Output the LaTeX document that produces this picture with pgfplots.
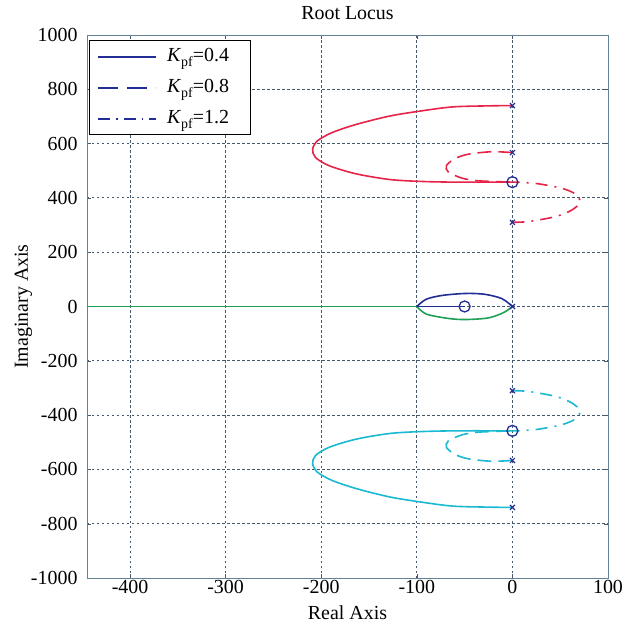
\documentclass[border=0pt]{standalone}
\usepackage{pgfplots}
\pgfplotsset{compat=1.18}
\usepackage{fontspec}
\setmainfont{Liberation Serif}
\definecolor{rred}{RGB}{230,35,72}
\definecolor{rcyan}{RGB}{25,185,210}
\definecolor{rblue}{RGB}{35,45,150}
\definecolor{rgreen}{RGB}{30,160,85}
\definecolor{gridc}{RGB}{70,90,110}
\definecolor{framec}{RGB}{100,130,150}
\newcommand{\kpf}{\textit{K}\raisebox{-0.5ex}{\fontsize{14}{14}\selectfont pf}}
\begin{document}
\begin{tikzpicture}
\path[use as bounding box] (-87bp,-46bp) rectangle (535bp,578bp);
\begin{axis}[
  scale only axis, width=521bp, height=543bp,
  xmin=-445, xmax=100, ymin=-1000, ymax=1000,
  xtick={-400,-300,...,100}, ytick={-1000,-800,...,1000},
  /pgf/number format/assume math mode=true,
  /pgf/number format/set thousands separator={},
  font=\fontsize{20}{24}\selectfont,
  tick label style={font=\fontsize{20}{24}\selectfont},
  xticklabel style={yshift=1bp},
  yticklabel style={xshift=-6bp},
  tick align=inside, tick pos=both,
  major tick length=4bp,
  axis line style={framec, line width=0.8pt},
  every tick/.style={gridc},
  grid=major,
  major grid style={gridc, line width=0.8pt, dash pattern=on 2.5bp off 2.5bp},
  title={Root Locus}, title style={at={(axis description cs:0.5,1.0184)}, anchor=base},
  xlabel={Real Axis}, ylabel={Imaginary Axis},
  xlabel style={at={(axis description cs:0.5,-0.0773)}, anchor=base},
  ylabel style={at={(axis description cs:-0.122,0.5)}, anchor=center},
  legend cell align=left,
  legend style={at={(0.004,0.99)}, anchor=north west, draw=black, line width=1pt,
    font=\fontsize{20}{24}\selectfont, row sep=9bp, inner xsep=8bp, inner ysep=5bp,
    nodes={inner sep=2bp, text height=14bp, text depth=4bp},
    /tikz/every odd column/.append style={column sep=8bp}},
  legend image code/.code={\draw[#1, line width=1.5pt] (0bp,0bp) -- (58bp,0bp);},
]
\addlegendimage{rblue, line width=1.5pt}
\addlegendentry{\kpf=0.4\rule{12bp}{0pt}}
\addlegendimage{rblue, dash pattern=on 20bp off 9bp}
\addlegendentry{\kpf=0.8\rule{12bp}{0pt}}
\addlegendimage{rblue, dash pattern=on 12bp off 6bp on 1.5bp off 6bp}
\addlegendentry{\kpf=1.2\rule{12bp}{0pt}}

% real axis branches
\addplot[rgreen, line width=1.6pt, forget plot] coordinates {(-445,0) (-100,0)};
\addplot[rgreen, line width=1.6pt, smooth, forget plot] coordinates {
(-100,0) (-90,-28) (-67,-44) (-49,-48) (-25,-42) (-9,-22) (0,0)};
\addplot[rblue, line width=1.6pt, smooth, forget plot] coordinates {
(-100,0) (-90,27) (-73,41) (-49,48) (-29,45) (-11,29) (0,0)};
\addplot[rblue, line width=1.6pt, forget plot] coordinates {(-100,0) (-50,0)};

% upper (red)
\addplot[rred, line width=1.6pt, smooth, tension=0.5, forget plot] coordinates {
(0,740) (-25,739) (-63,735) (-98,719) (-129,701) (-164,670) (-189,640) (-204,610) (-209,579) (-206,549) (-192,519) (-164,489) (-129,468) (-98,461) (-60,458) (0,458)};
\addplot[rred, line width=1.6pt, smooth, tension=0.5, dash pattern=on 14bp off 7bp, forget plot] coordinates {
(0,567) (-22,570) (-46,561) (-60,545) (-69,519) (-67,495) (-53,473) (-39,464) (-25,461) (0,458)};
\addplot[rred, line width=1.6pt, smooth, tension=0.5, dash pattern=on 12bp off 7bp on 2bp off 7bp, forget plot] coordinates {
(0,310) (17,313) (45,331) (62,355) (71,385) (65,416) (51,436) (27,452) (10,457) (0,458)};

% lower (cyan)
\addplot[rcyan, line width=1.6pt, smooth, tension=0.5, forget plot] coordinates {
(0,-740) (-25,-739) (-63,-735) (-98,-719) (-129,-701) (-164,-670) (-189,-640) (-204,-610) (-209,-579) (-206,-549) (-192,-519) (-164,-489) (-129,-468) (-98,-461) (-60,-458) (0,-458)};
\addplot[rcyan, line width=1.6pt, smooth, tension=0.5, dash pattern=on 14bp off 7bp, forget plot] coordinates {
(0,-567) (-22,-570) (-46,-561) (-60,-545) (-69,-519) (-67,-495) (-53,-473) (-39,-464) (-25,-461) (0,-458)};
\addplot[rcyan, line width=1.6pt, smooth, tension=0.5, dash pattern=on 12bp off 7bp on 2bp off 7bp, forget plot] coordinates {
(0,-310) (17,-313) (45,-331) (62,-355) (71,-385) (65,-416) (51,-436) (27,-452) (10,-457) (0,-458)};

% poles and zeros
\addplot[only marks, mark=x, mark size=3.5bp, rblue, line width=1.2pt, forget plot] coordinates {
(0,740) (0,567) (0,310) (0,0) (0,-310) (0,-567) (0,-740)};
\addplot[only marks, mark=o, mark size=5.5bp, rblue, line width=1.3pt, forget plot] coordinates {
(0,458) (0,-458) (-50,0)};
\end{axis}
\end{tikzpicture}
\end{document}
